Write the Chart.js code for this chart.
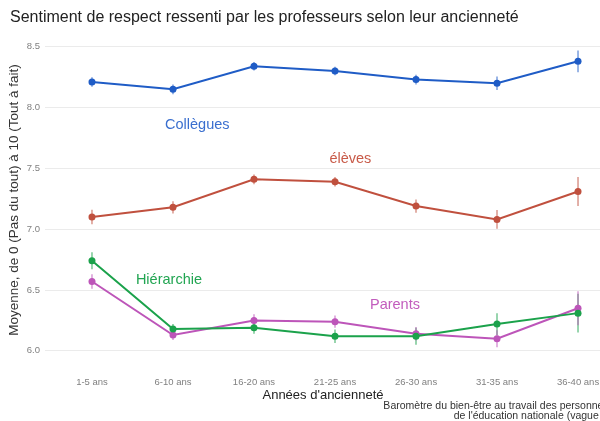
<!DOCTYPE html>
<html>
<head>
<meta charset="utf-8">
<script src="https://cdn.jsdelivr.net/npm/chart.js@4.4.1/dist/chart.umd.min.js"></script>
<style>
    html, body { margin: 0; padding: 0; background: #fff; overflow: hidden; }
    #wrap { width: 600px; height: 421px; overflow: hidden; }
</style>
</head>
<body>
<div id="wrap"><canvas id="chart" width="640" height="421"></canvas></div>
<script>
// Données
const categories = ['1-5 ans', '6-10 ans', '16-20 ans', '21-25 ans', '26-30 ans', '31-35 ans', '36-40 ans'];
const yTicks = [6.0, 6.5, 7.0, 7.5, 8.0, 8.5];

const colleguesValues = [8.21, 8.15, 8.34, 8.30, 8.23, 8.20, 8.38];
const colleguesErrors = [0.04, 0.04, 0.035, 0.035, 0.04, 0.055, 0.09];

const elevesValues = [7.10, 7.18, 7.41, 7.39, 7.19, 7.08, 7.31];
const elevesErrors = [0.06, 0.05, 0.04, 0.04, 0.055, 0.077, 0.12];

const hierarchieValues = [6.74, 6.18, 6.19, 6.12, 6.12, 6.22, 6.31];
const hierarchieErrors = [0.07, 0.04, 0.05, 0.055, 0.07, 0.09, 0.16];

const parentsValues = [6.57, 6.13, 6.25, 6.24, 6.14, 6.10, 6.35];
const parentsErrors = [0.06, 0.04, 0.05, 0.05, 0.055, 0.07, 0.14];

const FONT = '"Liberation Sans", Arial, sans-serif';

const toPoints = values => values.map((v, i) => ({ x: i, y: v }));

const serie = (values, errors, color) => ({
    data: toPoints(values),
    errors: errors,
    borderColor: color,
    backgroundColor: color,
    borderWidth: 2,
    pointRadius: 3.5,
    pointBorderWidth: 0,
    pointBackgroundColor: color,
    tension: 0,
});

// barres d'erreur verticales
const errorBars = {
    id: 'errorBars',
    beforeDatasetsDraw(chart) {
        const { ctx, scales: { x, y } } = chart;
        chart.data.datasets.forEach(ds => {
            ctx.save();
            ctx.strokeStyle = ds.borderColor;
            ctx.globalAlpha = 0.6;
            ctx.lineWidth = 1.5;
            ds.data.forEach((p, i) => {
                const e = ds.errors[i];
                const px = x.getPixelForValue(p.x);
                ctx.beginPath();
                ctx.moveTo(px, y.getPixelForValue(p.y - e));
                ctx.lineTo(px, y.getPixelForValue(p.y + e));
                ctx.stroke();
            });
            ctx.restore();
        });
    }
};

// étiquettes des séries + titres + source
const textes = {
    id: 'textes',
    afterDraw(chart) {
        const { ctx, scales: { x, y } } = chart;
        ctx.save();
        ctx.textBaseline = 'middle';

        const labels = [
            { text: 'Collègues', x: 1.30, y: 7.86, color: '#3a6fcf' },
            { text: 'élèves', x: 3.19, y: 7.575, color: '#c85a48' },
            { text: 'Hiérarchie', x: 0.95, y: 6.58, color: '#22a552' },
            { text: 'Parents', x: 3.74, y: 6.38, color: '#c25cbd' },
        ];
        ctx.textAlign = 'center';
        ctx.font = '14.5px ' + FONT;
        labels.forEach(l => {
            ctx.fillStyle = l.color;
            ctx.fillText(l.text, x.getPixelForValue(l.x), y.getPixelForValue(l.y));
        });

        ctx.textAlign = 'left';
        ctx.fillStyle = '#222';
        ctx.font = '16px ' + FONT;
        ctx.fillText('Sentiment de respect ressenti par les professeurs selon leur ancienneté', 10, 18);

        ctx.textAlign = 'center';
        ctx.fillStyle = '#222';
        ctx.font = '13px ' + FONT;
        ctx.fillText("Années d'ancienneté", 323, 395);

        ctx.textAlign = 'right';
        ctx.fillStyle = '#333';
        ctx.font = '10.5px ' + FONT;
        ctx.fillText('Baromètre du bien-être au travail des personnels', 611, 406);
        ctx.fillText("de l'éducation nationale (vague 2)", 611, 416);
        ctx.restore();
    }
};

new Chart(document.getElementById('chart'), {
    type: 'line',
    data: {
        datasets: [
            serie(colleguesValues, colleguesErrors, '#1f5cc6'),
            serie(elevesValues, elevesErrors, '#c0503e'),
            serie(hierarchieValues, hierarchieErrors, '#1ba24b'),
            serie(parentsValues, parentsErrors, '#bd55b9'),
        ],
    },
    options: {
        responsive: false,
        animation: false,
        layout: { padding: { top: 37, right: 15, bottom: 32, left: 0 } },
        plugins: {
            legend: { display: false },
            tooltip: { enabled: false },
        },
        scales: {
            x: {
                type: 'linear',
                min: -0.58,
                max: 6.58,
                afterBuildTicks: s => { s.ticks = categories.map((c, i) => ({ value: i })); },
                ticks: {
                    callback: v => categories[v],
                    font: { size: 9.5, family: FONT },
                    color: '#808080',
                    padding: 14,
                    maxRotation: 0,
                    autoSkip: false,
                },
                grid: { display: false, drawTicks: false },
                border: { display: false },
                afterFit: s => { s.height = 26; },
            },
            y: {
                min: 5.9,
                max: 8.58,
                afterBuildTicks: s => { s.ticks = yTicks.map(v => ({ value: v })); },
                ticks: {
                    callback: v => v.toFixed(1),
                    font: { size: 9.5, family: FONT },
                    color: '#808080',
                    padding: 5,
                },
                grid: { color: '#ebebeb', lineWidth: 1, drawTicks: false },
                border: { display: false },
                title: {
                    display: true,
                    text: 'Moyenne, de 0 (Pas du tout) à 10 (Tout à fait)',
                    font: { size: 13.5, family: FONT },
                    color: '#333',
                    padding: { top: 6, bottom: 0 },
                },
                afterFit: s => { s.width = 45; },
            },
        },
    },
    plugins: [errorBars, textes],
});
</script>
</body>
</html>
